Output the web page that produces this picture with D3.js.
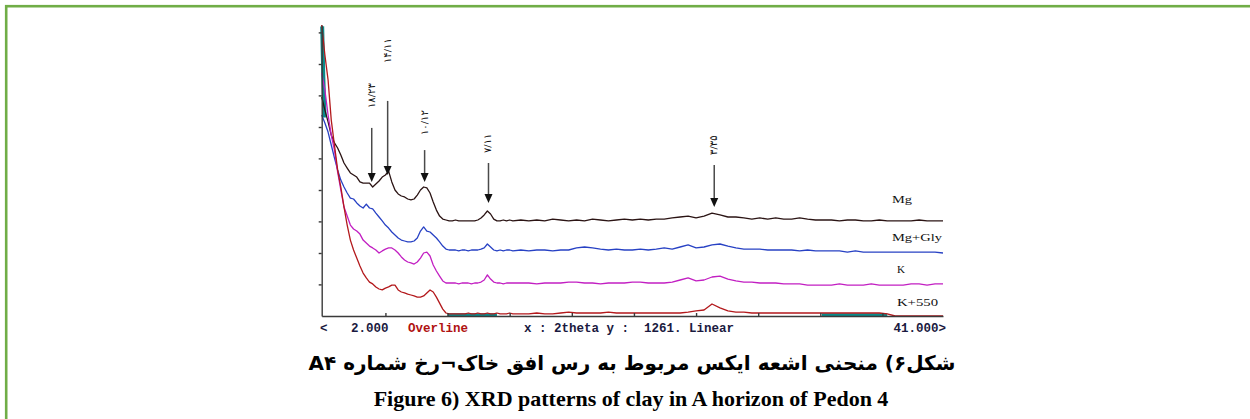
<!DOCTYPE html>
<html>
<head>
<meta charset="utf-8">
<script src="https://cdn.jsdelivr.net/npm/d3@7"></script>
<style>
  body { margin: 0; background: #fff; }
</style>
</head>
<body>
<div id="chart"></div>
<script>
const w = 1250;
const h = 419;

// 2theta grid (degrees)
const twoTheta = [2.0,2.2,2.4,2.6,2.8,3.0,3.2,3.4,3.6,3.8,4.0,4.2,4.4,4.6,4.8,5.0,5.2,5.4,5.6,5.8,
  6.0,6.2,6.4,6.6,6.8,7.0,7.2,7.4,7.6,7.8,8.0,8.2,8.4,8.6,8.8,9.0,9.2,9.4,9.6,9.8,
  10.0,10.2,10.4,10.6,10.8,11.0,11.2,11.4,11.6,11.8,12.0,12.2,12.4,12.6,12.8,13.0,13.2,13.4,13.6,13.8,14.0,
  14.5,15.0,15.5,16.0,16.5,17.0,17.5,18.0,18.5,19.0,19.5,20.0,20.5,21.0,21.5,22.0,22.5,23.0,23.5,24.0,
  24.5,25.0,25.5,26.0,26.5,27.0,27.5,28.0,28.5,29.0,29.5,30.0,30.5,31.0,31.5,32.0,32.5,33.0,33.5,34.0,
  34.5,35.0,35.5,36.0,36.5,37.0,37.5,38.0,38.5,39.0,39.5,40.0,40.5,41.0];

// intensities (counts, stacked display as in the picture)
const mg = [949,893,841,784,750,728,698,663,641,620,611,602,581,576,576,576,559,572,585,602,
  611,628,581,546,529,520,516,507,503,507,524,546,559,555,533,494,459,433,420,416,
  412,412,416,412,412,412,412,412,412,416,425,438,455,442,420,412,412,416,412,416,412,
  416,412,416,412,420,416,412,416,412,420,416,412,416,420,416,420,416,420,420,425,
  429,433,425,433,446,438,429,429,425,420,425,420,425,420,420,425,420,416,416,416,
  412,416,416,412,412,416,412,412,412,412,416,412,412,412];

const mgGly = [871,836,797,741,685,633,589,559,533,511,507,490,477,468,485,468,464,446,429,412,
  394,381,364,351,338,329,325,321,321,325,338,368,386,368,364,351,338,321,303,290,
  286,286,286,282,286,286,282,286,286,286,290,295,312,299,286,282,286,282,286,286,282,
  286,282,286,286,282,286,286,295,299,295,290,286,290,286,286,290,286,290,295,290,
  299,308,295,299,308,312,303,295,290,290,290,286,286,286,286,282,286,282,282,282,
  282,277,282,277,277,277,277,277,277,277,277,277,277,273];

const kSat = [1053,979,871,784,719,624,546,472,433,394,377,368,355,329,316,303,295,286,273,282,
  290,295,295,286,273,256,243,234,230,225,234,251,273,277,260,221,195,173,152,143,
  143,143,143,139,143,143,143,139,143,143,147,156,178,160,147,143,143,139,143,143,143,
  143,143,139,143,143,143,147,147,143,143,139,143,143,143,147,147,143,143,143,147,
  156,165,152,156,169,173,160,152,147,147,143,143,143,139,139,139,134,134,134,134,
  139,134,134,134,139,134,134,134,134,139,139,134,139,139];

const k550 = [1261,1131,1023,849,741,633,559,472,394,329,286,251,217,186,165,147,139,126,117,113,
  121,126,134,134,113,104,100,95,91,87,82,82,87,100,113,104,82,56,30,13,
  9,9,9,9,9,9,13,9,9,13,9,9,13,9,9,13,9,9,9,13,9,
  9,9,13,9,9,13,17,13,13,13,13,17,13,13,13,13,13,13,13,13,
  13,17,22,26,52,35,22,17,17,13,13,13,13,13,13,13,13,13,13,13,
  13,13,13,13,13,13,9,0,0,0,0,0,0,0];

const seriesNames = ['Mg', 'Mg+Gly', 'K', 'K+550'];
const seriesValues = [mg, mgGly, kSat, k550];
const seriesColors = ['#2b1414', '#2741c4', '#c21fc2', '#b3191c'];

// "overline" marks
const overlineTop = [[2.03, 1255], [2.1, 1040], [2.18, 860]];
const overlineBase = [[9.9, 13.0], [33.4, 37.5]];

// peak arrows (d-spacing in Persian digits)
const peakLabels = ['۱۸/۲۳', '۱۴/۱۱', '۱۰/۱۲', '۷/۱۱', '۳/۳۵'];
const peakTheta = [5.14, 6.14, 8.46, 12.47, 26.64];
const arrowTop = [815, 932, 719, 663, 654];
const arrowTip = [581, 611, 581, 490, 472];
const labelStart = [901, 1096, 784, 706, 698];

const xTicks = [6.0, 9.9, 13.8, 17.7, 21.6, 25.5, 29.4, 33.3, 37.2];
const yTicks = [137, 273, 410, 546, 683, 819, 956, 1092, 1229];

const svg = d3.select('#chart')
  .append('svg')
  .attr('width', w)
  .attr('height', h);

// green frame
svg.append('rect')
  .attr('x', 6.2).attr('y', 6.2)
  .attr('width', 1300).attr('height', 500)
  .attr('fill', 'none')
  .attr('stroke', '#70ad47')
  .attr('stroke-width', 2.6);

const xScale = d3.scaleLinear().domain([2, 41]).range([321.7, 943]);
const yScale = d3.scaleLinear().domain([0, 1261]).range([316, 25]);

const line = d3.line()
  .x(function(d) { return xScale(d[0]); })
  .y(function(d) { return yScale(d[1]); });

// overline fills
svg.append('path')
  .attr('d', line(overlineTop))
  .attr('fill', 'none')
  .attr('stroke', '#0a8a8a')
  .attr('stroke-width', 4);

svg.selectAll('line.over')
  .data(overlineBase)
  .enter()
  .append('line')
  .attr('class', 'over')
  .attr('x1', function(d) { return xScale(d[0]); })
  .attr('x2', function(d) { return xScale(d[1]); })
  .attr('y1', yScale(5))
  .attr('y2', yScale(5))
  .attr('stroke', '#0a8a8a')
  .attr('stroke-width', 3);

// curves
svg.selectAll('path.curve')
  .data(seriesValues)
  .enter()
  .append('path')
  .attr('class', 'curve')
  .attr('d', function(vals) {
    return line(vals.map(function(v, i) { return [twoTheta[i], v]; }));
  })
  .attr('fill', 'none')
  .attr('stroke', function(d, i) { return seriesColors[i]; })
  .attr('stroke-width', 1.3)
  .attr('stroke-linejoin', 'round');

// axes
const xAxis = d3.axisBottom(xScale)
  .tickValues(xTicks)
  .tickSize(-3)
  .tickSizeOuter(0)
  .tickFormat('');

const yAxis = d3.axisLeft(yScale)
  .tickValues(yTicks)
  .tickSize(3)
  .tickSizeOuter(0)
  .tickFormat('');

svg.append('g')
  .attr('transform', 'translate(0,316)')
  .call(xAxis)
  .call(function(g) {
    g.selectAll('path, line').attr('stroke', '#3a3a3a').attr('stroke-width', 1.4);
  });

svg.append('g')
  .attr('transform', 'translate(321.7,0)')
  .call(yAxis)
  .call(function(g) {
    g.selectAll('path, line').attr('stroke', '#3a3a3a').attr('stroke-width', 1.4);
  });

// series labels
const labelX = [892, 892, 897, 897];
const labelY = [203, 241, 273, 306];
const labelLen = [20, 50, 8, 41];
svg.selectAll('text.series')
  .data(seriesNames)
  .enter()
  .append('text')
  .attr('class', 'series')
  .attr('x', function(d, i) { return labelX[i]; })
  .attr('y', function(d, i) { return labelY[i]; })
  .attr('textLength', function(d, i) { return labelLen[i]; })
  .attr('lengthAdjust', 'spacingAndGlyphs')
  .attr('font-family', 'Liberation Serif, serif')
  .attr('font-size', '11px')
  .attr('fill', '#111')
  .text(function(d) { return d; });

// arrows
const arrows = svg.selectAll('g.arrow')
  .data(peakLabels)
  .enter()
  .append('g')
  .attr('class', 'arrow');

arrows.append('line')
  .attr('x1', function(d, i) { return xScale(peakTheta[i]); })
  .attr('x2', function(d, i) { return xScale(peakTheta[i]); })
  .attr('y1', function(d, i) { return yScale(arrowTop[i]); })
  .attr('y2', function(d, i) { return yScale(arrowTip[i]) - 6; })
  .attr('stroke', '#4a4a4a')
  .attr('stroke-width', 1.5);

arrows.append('path')
  .attr('d', function(d, i) {
    const x = xScale(peakTheta[i]);
    const y = yScale(arrowTip[i]);
    return 'M' + (x - 4) + ',' + (y - 9) + 'L' + (x + 4) + ',' + (y - 9) + 'L' + x + ',' + y + 'Z';
  })
  .attr('fill', '#111');

arrows.append('text')
  .attr('transform', function(d, i) {
    return 'translate(' + (xScale(peakTheta[i]) + 3) + ',' + yScale(labelStart[i]) + ') rotate(-90)';
  })
  .attr('font-family', 'DejaVu Serif, DejaVu Sans, serif')
  .attr('font-size', '10px')
  .attr('fill', '#111')
  .text(function(d) { return d; });

// status bar
const statusText = [
  ['<', 320, '#1a1a40'],
  ['2.000', 351, '#1a1a40'],
  ['Overline', 408, '#b01212'],
  ['x : 2theta y :  1261. Linear', 524, '#1a1a40']
];
svg.selectAll('text.status')
  .data(statusText)
  .enter()
  .append('text')
  .attr('class', 'status')
  .attr('x', function(d) { return d[1]; })
  .attr('y', 332)
  .attr('font-family', 'Liberation Mono, DejaVu Sans Mono, monospace')
  .attr('font-weight', 'bold')
  .attr('font-size', '12.5px')
  .attr('fill', function(d) { return d[2]; })
  .attr('xml:space', 'preserve')
  .style('white-space', 'pre')
  .text(function(d) { return d[0]; });

svg.append('text')
  .attr('x', 946)
  .attr('y', 332)
  .attr('text-anchor', 'end')
  .attr('font-family', 'Liberation Mono, DejaVu Sans Mono, monospace')
  .attr('font-weight', 'bold')
  .attr('font-size', '12.5px')
  .attr('fill', '#1a1a40')
  .text('41.000>');

// captions
svg.append('text')
  .attr('x', 632)
  .attr('y', 370)
  .attr('text-anchor', 'middle')
  .attr('direction', 'rtl')
  .attr('font-family', 'DejaVu Sans, sans-serif')
  .attr('font-weight', 'bold')
  .attr('font-size', '20px')
  .attr('fill', '#000')
  .text('شکل۶) منحنی اشعه ایکس مربوط به رس افق خاک¬رخ شماره A۴');

svg.append('text')
  .attr('x', 631)
  .attr('y', 406)
  .attr('text-anchor', 'middle')
  .attr('font-family', 'Liberation Serif, serif')
  .attr('font-weight', 'bold')
  .attr('font-size', '22px')
  .attr('fill', '#000')
  .text('Figure 6) XRD patterns of clay in A horizon of Pedon 4');
</script>
</body>
</html>
